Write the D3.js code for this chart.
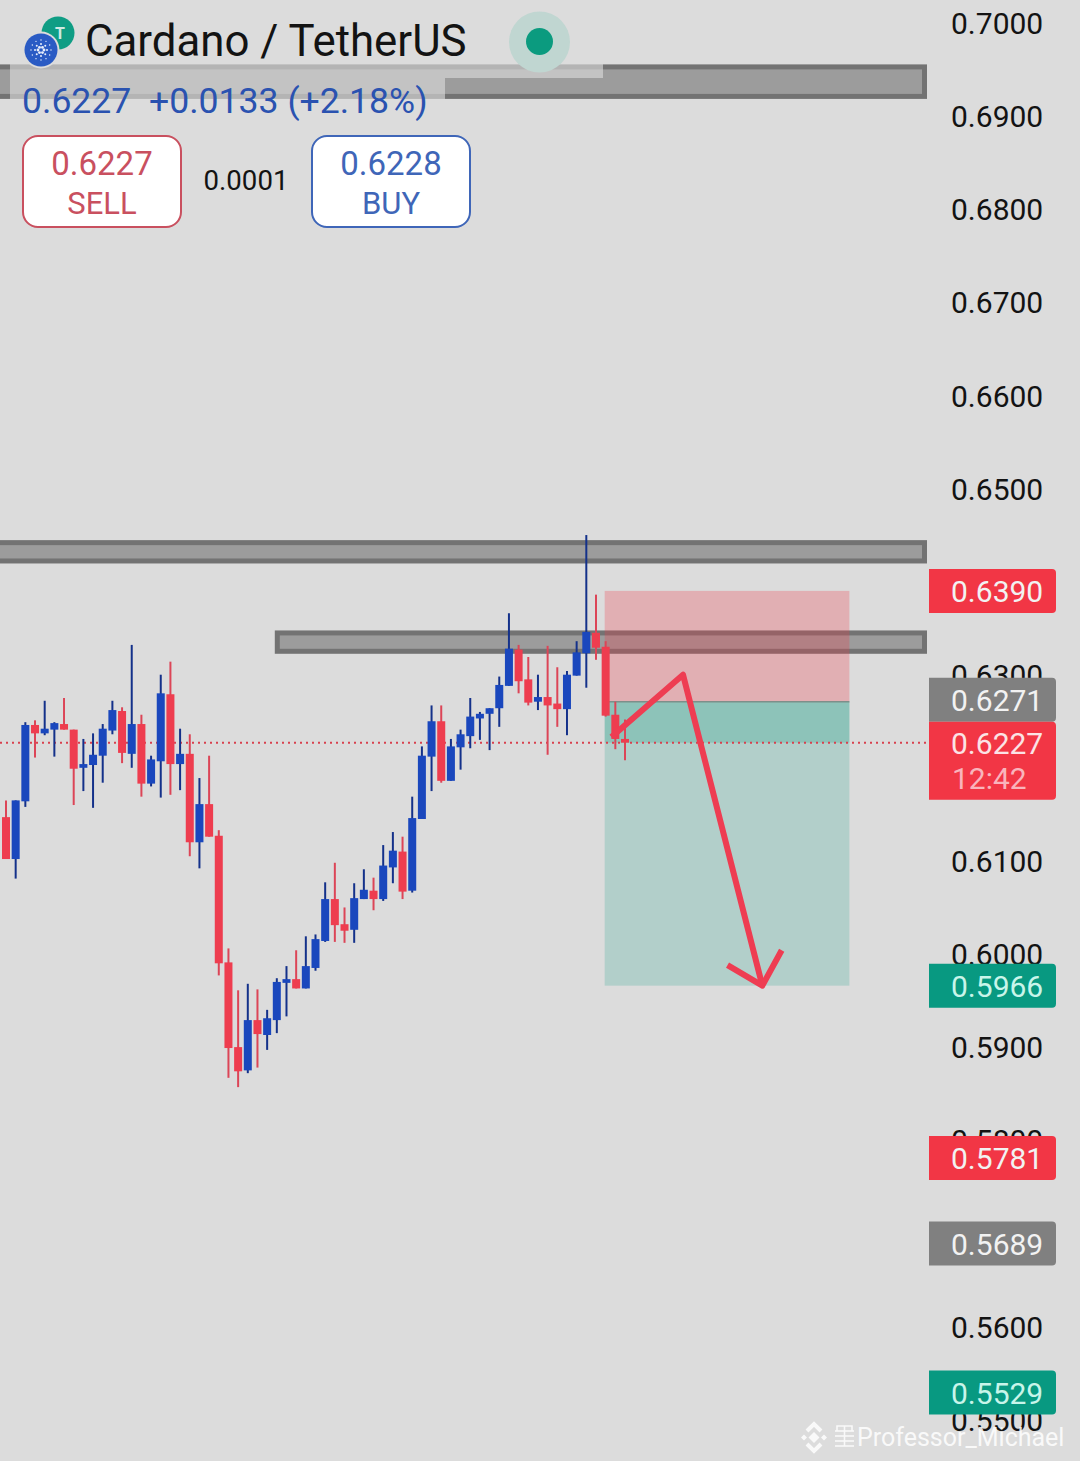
<!DOCTYPE html>
<html>
<head>
<meta charset="utf-8">
<script src="https://cdn.jsdelivr.net/npm/d3@7/dist/d3.min.js"></script>
<style>
  html, body { margin: 0; padding: 0; background: #dcdcdc; }
  text { font-family: Roboto, sans-serif; }
</style>
</head>
<body>
<div id="chart"></div>
<script>
// candles (oldest first)
const opens  = [.6147,.6102,.6164,.6246,.6237,.6241,.6247,.6241,.6200,.6203,.6213,.6240,.6261,.6215,.6247,.6183,.6207,.6279,.6204,.6215,.6120,.6161,.6127,.5991,.5900,.5875,.5929,.5913,.5929,.5969,.5973,.5963,.5985,.6014,.6059,.6032,.6026,.6059,.6068,.6059,.6093,.6110,.6068,.6145,.6212,.6250,.6186,.6222,.6234,.6253,.6258,.6264,.6288,.6327,.6295,.6271,.6276,.6269,.6263,.6299,.6323,.6345,.6330,.6257,.6231];
const highs  = [.6165,.6165,.6249,.6251,.6272,.6249,.6275,.6241,.6231,.6237,.6247,.6272,.6265,.6332,.6257,.6213,.6300,.6314,.6242,.6236,.6189,.6213,.6133,.6006,.5961,.5968,.5962,.5940,.5974,.5987,.6004,.6019,.6021,.6077,.6098,.6050,.6076,.6091,.6082,.6117,.6131,.6126,.6169,.6223,.6267,.6267,.6231,.6241,.6275,.6260,.6264,.6298,.6366,.6332,.6319,.6300,.6331,.6308,.6304,.6336,.6450,.6386,.6336,.6271,.6252];
const lows   = [.6102,.6081,.6158,.6211,.6235,.6212,.6241,.6160,.6175,.6157,.6184,.6236,.6205,.6200,.6169,.6180,.6168,.6171,.6176,.6105,.6092,.6126,.5977,.5867,.5857,.5872,.5878,.5897,.5915,.5933,.5963,.5963,.5982,.6013,.6013,.6012,.6012,.6059,.6047,.6057,.6076,.6059,.6066,.6145,.6175,.6184,.6186,.6198,.6221,.6230,.6219,.6244,.6288,.6280,.6267,.6262,.6214,.6244,.6235,.6299,.6286,.6316,.6255,.6220,.6208];
const closes = [.6102,.6165,.6246,.6237,.6242,.6248,.6241,.6199,.6204,.6214,.6242,.6262,.6216,.6247,.6183,.6209,.6280,.6204,.6215,.6120,.6161,.6126,.5990,.5899,.5874,.5929,.5914,.5931,.5970,.5973,.5963,.5987,.6016,.6059,.6031,.6025,.6060,.6069,.6059,.6095,.6111,.6067,.6146,.6213,.6250,.6186,.6223,.6236,.6255,.6258,.6264,.6289,.6328,.6293,.6270,.6276,.6267,.6263,.6300,.6324,.6346,.6329,.6256,.6231,.6227];

const tickValues = [.70,.69,.68,.67,.66,.65,.64,.63,.62,.61,.60,.59,.58,.57,.56,.55];

// support / resistance zones: [upper price, lower price, first candle index]
const zoneTops    = [.6955, .6444, .6347];
const zoneBottoms = [.6919, .6420, .6323];
const zoneStarts  = [-1, -1, 28.05];

// short position tool
const stopPrice = .6390, entryPrice = .6271, targetPrice = .5966, lastPrice = .6227;
const boxStart = 61.9, boxEnd = 87.2;

// hand drawn arrow: candle index and price
const arrowIdx    = [62.6, 70, 78.2];
const arrowPrice  = [.6233, .6300, .5966];
const arrowHeadIdx   = [74.6, 78.2, 80.2];
const arrowHeadPrice = [.5988, .5966, .6004];

// price tags on the right
const tagPrices = [.6390, .6271, .5966, .5781, .5689, .5529];
const tagLabels = ['0.6390', '0.6271', '0.5966', '0.5781', '0.5689', '0.5529'];
const tagColors = ['#f23645', '#808080', '#089981', '#f23645', '#808080', '#089981'];

const width = 1080, height = 1461, plotWidth = 927;

const xScale = d3.scaleLinear().domain([0, 64]).range([6, 625]);
const yScale = d3.scaleLinear().domain([.55, .70]).range([1419.5, 23]);

const svg = d3.select('#chart').append('svg')
    .attr('width', width)
    .attr('height', height)
    .style('display', 'block');

svg.append('rect').attr('width', width).attr('height', height).attr('fill', '#dcdcdc');

// price axis, tags get painted over some of its labels later
const yAxis = d3.axisRight(yScale)
    .tickValues(tickValues)
    .tickSize(0)
    .tickPadding(0)
    .tickFormat(d3.format('.4f'));

const axisG = svg.append('g')
    .attr('transform', 'translate(951, 1)')
    .call(yAxis);
axisG.select('.domain').remove();
axisG.selectAll('text')
    .attr('font-size', 30)
    .attr('font-family', 'Roboto, sans-serif')
    .attr('fill', '#131313');

// zones
const zones = svg.append('g');
zoneTops.forEach((top, i) => {
    const x0 = zoneStarts[i] < 0 ? -4 : xScale(zoneStarts[i]);
    zones.append('rect')
        .attr('x', x0)
        .attr('y', yScale(top) + 2)
        .attr('width', plotWidth - 2.5 - x0)
        .attr('height', yScale(zoneBottoms[i]) - yScale(top) - 4)
        .attr('fill', '#9c9c9c')
        .attr('stroke', '#737373')
        .attr('stroke-width', 5);
});

// smudged strip under the header
svg.append('rect').attr('x', 10).attr('y', 64).attr('width', 435).attr('height', 35).attr('fill', '#dcdcdc').attr('opacity', .62);
svg.append('rect').attr('x', 445).attr('y', 64).attr('width', 158).attr('height', 14).attr('fill', '#dcdcdc').attr('opacity', .62);

// position box
const boxX = xScale(boxStart), boxW = xScale(boxEnd) - xScale(boxStart);
svg.append('rect')
    .attr('x', boxX).attr('y', yScale(stopPrice))
    .attr('width', boxW).attr('height', yScale(entryPrice) - yScale(stopPrice))
    .attr('fill', '#f23645').attr('opacity', .27);
svg.append('rect')
    .attr('x', boxX).attr('y', yScale(entryPrice))
    .attr('width', boxW).attr('height', yScale(targetPrice) - yScale(entryPrice))
    .attr('fill', '#089981').attr('opacity', .2);
svg.append('rect')
    .attr('x', boxX).attr('y', yScale(entryPrice))
    .attr('width', boxW).attr('height', yScale(lastPrice) - yScale(entryPrice))
    .attr('fill', '#089981').attr('opacity', .22);
svg.append('line')
    .attr('x1', boxX).attr('x2', boxX + boxW)
    .attr('y1', yScale(entryPrice)).attr('y2', yScale(entryPrice))
    .attr('stroke', '#7d8f8a').attr('stroke-width', 1.5);

// last price line
svg.append('line')
    .attr('x1', 0).attr('x2', plotWidth)
    .attr('y1', yScale(lastPrice)).attr('y2', yScale(lastPrice))
    .attr('stroke', '#d8404e')
    .attr('stroke-width', 2)
    .attr('stroke-dasharray', '2 4');

// candles
const candles = svg.append('g').selectAll('g')
    .data(d3.range(opens.length))
    .enter()
    .append('g');

const isUp = i => closes[i] >= opens[i];

candles.append('line')
    .attr('x1', i => xScale(i))
    .attr('x2', i => xScale(i))
    .attr('y1', i => yScale(highs[i]))
    .attr('y2', i => yScale(lows[i]))
    .attr('stroke', i => isUp(i) ? '#14318a' : '#dc4557')
    .attr('stroke-width', 2);

candles.append('rect')
    .attr('x', i => xScale(i) - 4)
    .attr('width', 8)
    .attr('y', i => yScale(Math.max(opens[i], closes[i])))
    .attr('height', i => Math.max(yScale(Math.min(opens[i], closes[i])) - yScale(Math.max(opens[i], closes[i])), 3))
    .attr('fill', i => isUp(i) ? '#1a47bd' : '#ee3d4f');

// arrow
const arrowLine = d3.line().x(d => xScale(d[0])).y(d => yScale(d[1]));
svg.append('path')
    .attr('d', arrowLine(d3.zip(arrowIdx, arrowPrice)))
    .attr('fill', 'none').attr('stroke', '#ee3d52').attr('stroke-width', 6).attr('stroke-linejoin', 'round');
svg.append('path')
    .attr('d', arrowLine(d3.zip(arrowHeadIdx, arrowHeadPrice)))
    .attr('fill', 'none').attr('stroke', '#ee3d52').attr('stroke-width', 6).attr('stroke-linejoin', 'round');

// tag shape: square on the left, rounded on the right
const tagPath = (top, h) => {
    const p = d3.path();
    p.moveTo(0, top);
    p.lineTo(123, top);
    p.arcTo(127, top, 127, top + 4, 4);
    p.lineTo(127, top + h - 4);
    p.arcTo(127, top + h, 123, top + h, 4);
    p.lineTo(0, top + h);
    p.closePath();
    return p.toString();
};

// price tags
const tags = svg.append('g').selectAll('g')
    .data(tagPrices)
    .enter()
    .append('g')
    .attr('transform', d => `translate(929, ${yScale(d) - (d === entryPrice ? 2 : 0)})`);
tags.append('path')
    .attr('d', tagPath(-22, 44))
    .attr('fill', (d, i) => tagColors[i]);
tags.append('text')
    .attr('x', 22).attr('y', 11)
    .attr('font-size', 30)
    .attr('fill', (d, i) => tagColors[i] === '#089981' ? '#c8f5ea' : '#f2f2f2')
    .text((d, i) => tagLabels[i]);

// current price tag with countdown
const lastG = svg.append('g').attr('transform', `translate(929, ${yScale(lastPrice)})`);
lastG.append('path').attr('d', tagPath(-21, 78)).attr('fill', '#f23645');
lastG.append('text').attr('x', 22).attr('y', 11).attr('font-size', 30).attr('fill', '#fbe3e6').text('0.6227');
lastG.append('text').attr('x', 23).attr('y', 46).attr('font-size', 30).attr('fill', '#f9b4bc').text('12:42');

// header
svg.append('text').attr('x', 85).attr('y', 56).attr('font-size', 43.8).attr('fill', '#131313').text('Cardano / TetherUS');
svg.append('text').attr('x', 22).attr('y', 113).attr('font-size', 35.6).attr('fill', '#2a52b0')
    .attr('xml:space', 'preserve').text('0.6227  +0.0133 (+2.18%)');

// coin icons
svg.append('circle').attr('cx', 58).attr('cy', 33).attr('r', 16.5).attr('fill', '#0f9d84');
svg.append('text').attr('x', 60).attr('y', 39).attr('text-anchor', 'middle').attr('font-size', 16).attr('font-weight', 700).attr('fill', '#cfe9e2').text('T');
svg.append('circle').attr('cx', 41).attr('cy', 50).attr('r', 18.5).attr('fill', '#dcdcdc');
svg.append('circle').attr('cx', 41).attr('cy', 50).attr('r', 16.5).attr('fill', '#2a5bc4');
[[3, 6, 2], [6, 8, 1.4], [10, 12, 1]].forEach(([r, n, s]) => {
    d3.range(n).forEach(k => {
        const a = k / n * 2 * Math.PI;
        svg.append('circle')
            .attr('cx', 41 + r * Math.cos(a)).attr('cy', 50 + r * Math.sin(a))
            .attr('r', s / 1.4).attr('fill', '#e8eefb');
    });
});

// market open dot
svg.append('circle').attr('cx', 539.5).attr('cy', 42).attr('r', 30.5).attr('fill', '#c0d6d1');
svg.append('circle').attr('cx', 539.5).attr('cy', 41.5).attr('r', 13.5).attr('fill', '#0b9b7f');

// sell / buy buttons
const drawButton = (x, color, price, label) => {
    svg.append('rect').attr('x', x + 1).attr('y', 136).attr('width', 158).attr('height', 91).attr('rx', 15)
        .attr('fill', '#fff').attr('stroke', color).attr('stroke-width', 2);
    svg.append('text').attr('x', x + 80).attr('y', 175).attr('text-anchor', 'middle').attr('font-size', 33).attr('fill', color).text(price);
    svg.append('text').attr('x', x + 80).attr('y', 214).attr('text-anchor', 'middle').attr('font-size', 31).attr('fill', color).text(label);
};
drawButton(22, '#c9505f', '0.6227', 'SELL');
drawButton(311, '#3f66b8', '0.6228', 'BUY');
svg.append('text').attr('x', 246).attr('y', 190).attr('text-anchor', 'middle').attr('font-size', 27.6).attr('fill', '#131313').text('0.0001');

// watermark
const wm = svg.append('g').attr('fill', 'none').attr('stroke', '#fff').attr('stroke-width', 4).attr('opacity', .85);
wm.append('path').attr('d', 'M807 1431 L814 1424 L821 1431 M807 1444 L814 1451 L821 1444');
[[0, 0, 60], [-10, 0, 18], [10, 0, 18]].forEach(([dx, dy, area]) => {
    wm.append('path')
        .attr('d', d3.symbol(d3.symbolSquare, area))
        .attr('transform', `translate(${814 + dx}, ${1437.5 + dy}) rotate(45)`)
        .attr('fill', '#fff').attr('stroke', 'none');
});
const badge = svg.append('g').attr('fill', 'none').attr('stroke', '#fff').attr('stroke-width', 1.6).attr('opacity', .85);
[1431, 1436, 1441, 1446].forEach(y => {
    badge.append('line').attr('x1', 835).attr('x2', 854).attr('y1', y).attr('y2', y);
});
badge.append('path').attr('d', 'M837 1431 V1426 H852 V1431 M844.5 1426 V1446');
svg.append('text').attr('x', 857).attr('y', 1446).attr('font-size', 25)
    .attr('fill', '#fff').attr('opacity', .85).text('Professor_Michael');
</script>
</body>
</html>
